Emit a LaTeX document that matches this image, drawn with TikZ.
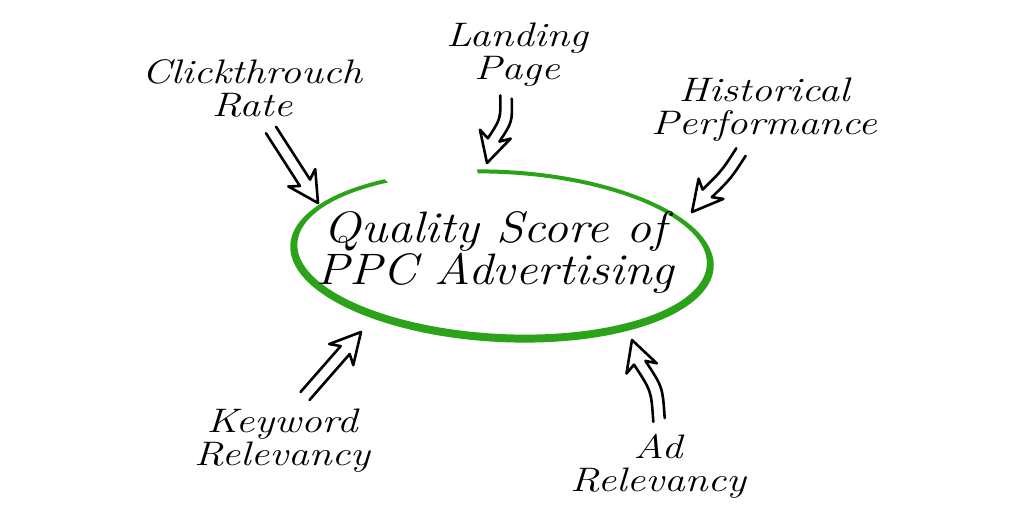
\documentclass[tikz,border=0pt]{standalone}
\usepackage{graphicx}
\usetikzlibrary{calc}
\definecolor{ringgreen}{RGB}{43,163,24}
\newcommand{\hw}[1]{\scalebox{1.22}[1]{#1}}
\newcommand{\hwt}[1]{\scalebox{1.13}[1]{#1}}
\tikzset{
  label/.style={align=center, inner sep=0pt, font=\fontsize{34}{33}\selectfont\itshape},
  title/.style={align=center, inner sep=0pt, font=\fontsize{44}{42}\selectfont\itshape},
  harrow/.style={draw=black, line width=2.6pt, line join=round, line cap=round}
}
% hollow hand-drawn arrow: #1 tail, #2 tip, #3 shaft bend
\newcommand{\hollowarrow}[3]{%
  \draw[harrow] let \p1=(#1), \p2=(#2),
    \n1={atan2(\y2-\y1,\x2-\x1)}, \n2={veclen(\x2-\x1,\y2-\y1)} in
    [shift={(\p1)}, rotate=\n1]
    (0,6) .. controls ({(\n2-24)/2},{6+#3}) .. ({\n2-24},6)
    -- ({\n2-30},16) -- (\n2,0) -- ({\n2-30},-16) -- ({\n2-24},-6)
    .. controls ({(\n2-24)/2},{-6+#3}) .. (0,-6);%
}
\begin{document}
\begin{tikzpicture}[x=1pt,y=-1pt]
\fill[white] (0,0) rectangle (1024,512);
\useasboundingbox (0,0) rectangle (1024,512);

% ring
\begin{scope}[shift={(502,256)}, rotate=-3]
\fill[ringgreen] (262:212 and 86) arc[start angle=262, end angle=595, x radius=212, y radius=86]
  -- ($(0,-2)+(595:205 and 80)$) arc[start angle=595, end angle=262, x radius=205, y radius=80] -- cycle;
\end{scope}

% texts
\node[title] (main) at (495,252) {\hwt{Quality Score of}\\\hwt{PPC Advertising}};
\node[label] (click) at (252,88) {\hw{Clickthrouch}\\\hw{Rate}};
\node[label] (landing) at (517,55) {\hw{Landing}\\\hw{Page}};
\node[label] (hist) at (764,110) {\hw{Historical}\\\hw{Performance}};
\node[label] (keyword) at (282,441) {\hw{Keyword}\\\hw{Relevancy}};
\node[label] (ad) at (658,466) {\hw{Ad}\\\hw{Relevancy}};

% arrow ends
\coordinate (clickT) at (271,130);
\coordinate (clickH) at (318,203);
\coordinate (landT) at (506,97);
\coordinate (landH) at (487,163);
\coordinate (histT) at (741,152);
\coordinate (histH) at (692,212);
\coordinate (keyT) at (305,396);
\coordinate (keyH) at (361,332);
\coordinate (adT) at (659,420);
\coordinate (adH) at (632,340);

\hollowarrow{clickT}{clickH}{0}
\hollowarrow{landT}{landH}{-7}
\hollowarrow{histT}{histH}{-3}
\hollowarrow{keyT}{keyH}{0}
\hollowarrow{adT}{adH}{8}
\end{tikzpicture}
\end{document}
